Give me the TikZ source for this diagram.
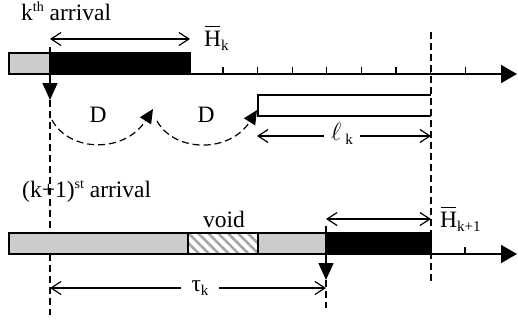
\documentclass[tikz,border=0pt]{standalone}
\usepackage{fontspec}
\setmainfont{Liberation Serif}
\usetikzlibrary{arrows.meta,patterns.meta}
\newcommand\mysub[1]{\raisebox{-4pt}{\fontsize{15}{15}\selectfont #1}}
\newcommand\mysup[1]{\raisebox{8.5pt}{\fontsize{14}{14}\selectfont #1}}
\newcommand\Hbar[1]{\leavevmode\rlap{\hspace{1pt}\rule[19pt]{15pt}{1.1pt}}H\mysub{#1}}
\begin{document}
\begin{tikzpicture}[x=1pt,y=-1pt,
  every node/.style={font=\fontsize{23.5}{27}\selectfont, inner sep=0pt},
  barline/.style={line width=1.3pt},
  greybar/.style={barline, draw=black, fill=black!20},
  blackbar/.style={barline, draw=black, fill=black},
  voidbar/.style={barline, draw=black, pattern={Lines[angle=-45,distance=7pt,line width=2.6pt]}, pattern color=black!35},
  axisline/.style={line width=1.5pt, -{Triangle[length=16pt,width=18pt]}},
  tickline/.style={line width=1.3pt},
  droparrow/.style={line width=1.5pt, -{Triangle[length=17pt,width=15pt]}},
  guide/.style={line width=1.2pt, dash pattern=on 7pt off 4pt},
  hop/.style={guide, -{Triangle[length=14pt,width=13pt]}},
  dimline/.style={line width=1.2pt, {Straight Barb[length=10pt,width=13pt]}-{Straight Barb[length=10pt,width=13pt]}},
  gaplabel/.style={fill=white, inner ysep=2pt},
]
\useasboundingbox (0,0) rectangle (518,322);

% ---- top time line (k-th arrival)
\draw[greybar] (9,53) rectangle (50,74);
\draw[blackbar] (50,53) rectangle (190,74);
\coordinate (axA0) at (190,74);
\coordinate (axA1) at (517,74);
\draw[axisline] (axA0) -- (axA1);
\foreach \i in {0,...,7} \draw[tickline] ({223+34.6*\i},67) -- ({223+34.6*\i},74);

\node[anchor=base west] (lblK) at (21,20) {k\mysup{th} arrival};
\coordinate (dimK0) at (50,39);
\coordinate (dimK1) at (190,39);
\draw[dimline] (dimK0) -- (dimK1);
\node[anchor=base west] (Hk) at (204,46) {\Hbar{k}};

% right dashed guide
\coordinate (hTop) at (431,32);
\coordinate (hBot) at (431,283);
\draw[guide] (hTop) -- (hBot);

% arrival drop at k
\coordinate (arrK) at (50,47);
\coordinate (dropK) at (50,100);
\coordinate (guideKend) at (50,315);
\draw[droparrow] (arrK) -- (dropK);
\draw[guide] (dropK) -- (guideKend);

% hops D
\coordinate (hop0) at (52,120);
\coordinate (hop1) at (153,109);
\coordinate (hop1s) at (157,121);
\coordinate (hop2) at (257,110);
\draw[hop] (hop0) .. controls (70,153) and (125,153) .. (hop1);
\draw[hop] (hop1s) .. controls (175,153) and (230,153) .. (hop2);
\node (D1) at (98,115) {D};
\node (D2) at (206,115) {D};

% l_k box
\coordinate (lb0) at (431,95);
\coordinate (lb1) at (258,95);
\coordinate (lb2) at (258,116);
\coordinate (lb3) at (431,116);
\draw[barline] (lb0) -- (lb1) -- (lb2) -- (lb3);
\coordinate (dimL0) at (257,136);
\coordinate (dimL1) at (431,136);
\draw[dimline] (dimL0) -- (dimL1);
\node[gaplabel, inner xsep=7pt] (lk) at (342,134) {$\ell$\,\mysub{k}};

% ---- bottom time line ((k+1)-st arrival)
\node[anchor=base west] (lblK1) at (22,197) {(k+1)\mysup{st} arrival};
\draw[greybar] (9,233) rectangle (188,254);
\draw[voidbar] (188,233) rectangle (258,254);
\draw[greybar] (258,233) rectangle (326,254);
\draw[blackbar] (326,233) rectangle (431,254);
\node[anchor=base] (void) at (224,227) {void};
\coordinate (axB0) at (431,254);
\coordinate (axB1) at (517,254);
\draw[axisline] (axB0) -- (axB1);
\draw[tickline] (465,247) -- (465,254);

\coordinate (dimH0) at (326,219);
\coordinate (dimH1) at (431,219);
\draw[dimline] (dimH0) -- (dimH1);
\node[anchor=base west] (Hk1) at (440,227) {\Hbar{k+1}};

\coordinate (arrK1) at (326,226);
\coordinate (dropK1) at (326,280);
\coordinate (guideK1end) at (326,308);
\draw[droparrow] (arrK1) -- (dropK1);
\draw[guide] (dropK1) -- (guideK1end);

\coordinate (tau0) at (50,288);
\coordinate (tau1) at (326,288);
\draw[dimline] (tau0) -- (tau1);
\node[gaplabel, inner xsep=11pt] (tau) at (200,288) {τ\mysub{k}};
\end{tikzpicture}
\end{document}
